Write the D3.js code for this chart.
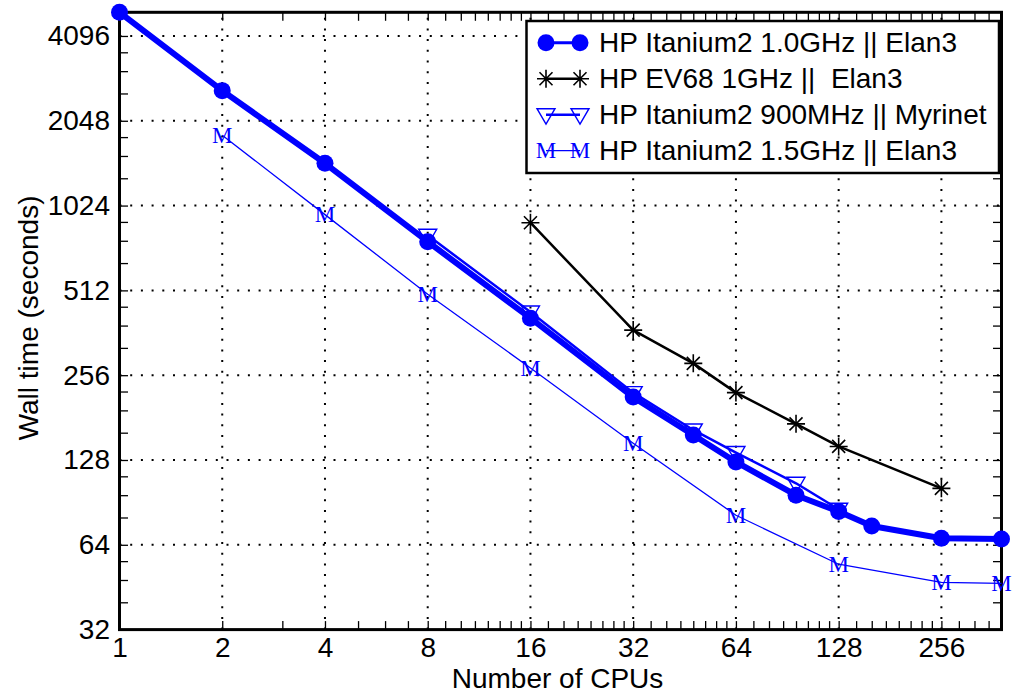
<!DOCTYPE html>
<html>
<head>
<meta charset="utf-8">
<script src="https://cdn.jsdelivr.net/npm/d3@7"></script>
<style>
    body { margin: 0; background: #fff; }
    svg { display: block; font-family: "Liberation Sans", Arial, Helvetica, sans-serif; }
    .tick-label { font-size: 28px; fill: #000; }
    .axis-title { font-size: 28px; fill: #000; }
    .legend-text { font-size: 28px; fill: #000; white-space: pre; }
    .m-marker { font-family: "Liberation Serif", "Times New Roman", serif; font-size: 23px; fill: #0000ff; }
</style>
</head>
<body>
<div id="chart"></div>
<script>
// Data
const cpuTicks = [1, 2, 4, 8, 16, 32, 64, 128, 256];
const timeTicks = [32, 64, 128, 256, 512, 1024, 2048, 4096];

const ita10Cpus = [1, 2, 4, 8, 16, 32, 48, 64, 96, 128, 160, 256, 384];
const ita10Time = [4970, 2620, 1447, 762, 408, 214, 157, 126, 96, 84, 74.6, 67.5, 67.1];

const ev68Cpus = [16, 32, 48, 64, 96, 128, 256];
const ev68Time = [890, 370, 282, 222, 172, 143, 101.5];

const ita900Cpus = [8, 16, 32, 48, 64, 96, 128];
const ita900Time = [803, 429, 222, 163.6, 136, 105.8, 85.6];

const ita15Cpus = [2, 4, 8, 16, 32, 64, 128, 256, 384];
const ita15Time = [1820, 951, 496, 271.5, 146.7, 81.5, 54.6, 47.1, 46.7];

const seriesNames = [
    'HP Itanium2 1.0GHz || Elan3',
    'HP EV68 1GHz ||  Elan3',
    'HP Itanium2 900MHz || Myrinet',
    'HP Itanium2 1.5GHz || Elan3'
];

// Layout
const W = 1013, H = 693;
const plot = { left: 119.5, top: 12.3, right: 1001.5, bottom: 629.6 };
const BLUE = '#0000ff';

const svg = d3.select('#chart').append('svg')
    .attr('width', W)
    .attr('height', H);

const zip = (xs, ys) => xs.map((x, i) => ({ x, y: ys[i] }));
const series = [
    zip(ita10Cpus, ita10Time),
    zip(ev68Cpus, ev68Time),
    zip(ita900Cpus, ita900Time),
    zip(ita15Cpus, ita15Time)
];

const allCpus = [].concat(ita10Cpus, ev68Cpus, ita900Cpus, ita15Cpus);
const allTimes = [].concat(ita10Time, ev68Time, ita900Time, ita15Time);

const x = d3.scaleLog().base(2)
    .domain(d3.extent(allCpus))
    .range([plot.left, plot.right]);
const y = d3.scaleLog().base(2)
    .domain([32, d3.max(allTimes)])
    .range([plot.bottom, plot.top]);

// minor ticks inside each octave
function minorTicks(domain, parts, minStep) {
    const out = [];
    for (let k = Math.floor(Math.log2(domain[0])); Math.pow(2, k) < domain[1]; k++) {
        const lo = Math.pow(2, k);
        const step = Math.max(minStep, lo / parts);
        for (let v = lo + step; v < lo * 2 - 1e-9; v += step) {
            if (v > domain[0] && v < domain[1]) out.push(v);
        }
    }
    return out;
}
const xMinor = minorTicks(x.domain(), 8, 1);
const yMinor = minorTicks(y.domain(), 4, 0);

// Grid (dotted)
const grid = svg.append('g')
    .attr('stroke', '#000')
    .attr('stroke-width', 2)
    .attr('stroke-dasharray', '2 8.7');
grid.selectAll('.gx')
    .data(cpuTicks.filter(d => d > x.domain()[0]))
    .enter().append('line')
    .attr('x1', d => x(d)).attr('x2', d => x(d))
    .attr('y1', plot.bottom).attr('y2', plot.top);
grid.selectAll('.gy')
    .data(timeTicks.filter(d => d > y.domain()[0]))
    .enter().append('line')
    .attr('x1', plot.left).attr('x2', plot.right)
    .attr('y1', d => y(d)).attr('y2', d => y(d));

// Axes with inward ticks on all four sides
const TL = 8.5;
const axisSpec = [
    { axis: d3.axisBottom(x), pos: `translate(0,${plot.bottom})`, minor: xMinor, sc: x, labels: true },
    { axis: d3.axisTop(x), pos: `translate(0,${plot.top})`, minor: xMinor, sc: x, labels: false },
    { axis: d3.axisLeft(y), pos: `translate(${plot.left},0)`, minor: yMinor, sc: y, labels: true },
    { axis: d3.axisRight(y), pos: `translate(${plot.right},0)`, minor: yMinor, sc: y, labels: false }
];
axisSpec.forEach(s => {
    const isX = s.sc === x;
    const major = isX ? cpuTicks : timeTicks;
    const g = svg.append('g').attr('transform', s.pos);
    g.call(s.axis.tickValues(major.concat(s.minor))
        .tickSize(-TL)
        .tickPadding(isX ? 8 : 9.5)
        .tickFormat(d => (s.labels && major.includes(d)) ? d3.format('d')(d) : ''));
    g.select('.domain').remove();
    g.selectAll('.tick line').attr('stroke', '#000').attr('stroke-width', 1.3);
    g.selectAll('.tick text')
        .attr('class', 'tick-label')
        .attr('font-size', null)
        .attr('font-family', null);
});

// frame
svg.append('rect')
    .attr('x', plot.left).attr('y', plot.top)
    .attr('width', plot.right - plot.left)
    .attr('height', plot.bottom - plot.top)
    .attr('fill', 'none')
    .attr('stroke', '#000')
    .attr('stroke-width', 3);

// Axis titles
svg.append('text')
    .attr('class', 'axis-title')
    .attr('x', (plot.left + plot.right) / 2 - 3)
    .attr('y', 688)
    .attr('text-anchor', 'middle')
    .text('Number of CPUs');
svg.append('text')
    .attr('class', 'axis-title')
    .attr('transform', `translate(38,${(plot.top + plot.bottom) / 2 - 3}) rotate(-90)`)
    .attr('text-anchor', 'middle')
    .text('Wall time (seconds)');

// Marker helpers
function drawCircle(g, cx, cy) {
    g.append('circle').attr('cx', cx).attr('cy', cy).attr('r', 8.5).attr('fill', BLUE);
}
function drawStar(g, cx, cy) {
    const r = 9, d = 6.5;
    const p = `M${cx - r},${cy}H${cx + r}M${cx},${cy - r}V${cy + r}` +
        `M${cx - d},${cy - d}L${cx + d},${cy + d}M${cx - d},${cy + d}L${cx + d},${cy - d}`;
    g.append('path').attr('d', p).attr('stroke', '#000').attr('stroke-width', 1.6).attr('fill', 'none');
}
function drawTri(g, cx, cy) {
    const p = `M${cx - 9},${cy - 6}L${cx + 9},${cy - 6}L${cx},${cy + 9.5}Z`;
    g.append('path').attr('d', p).attr('stroke', BLUE).attr('stroke-width', 1.4).attr('fill', 'none');
}
function drawM(g, cx, cy) {
    g.append('text').attr('class', 'm-marker')
        .attr('x', cx).attr('y', cy + 7.6)
        .attr('text-anchor', 'middle')
        .text('M');
}

const styles = [
    { color: BLUE, width: 6, marker: drawCircle },
    { color: '#000', width: 2.5, marker: drawStar },
    { color: BLUE, width: 2.5, marker: drawTri },
    { color: BLUE, width: 1.3, marker: drawM }
];

const line = d3.line().x(d => x(d.x)).y(d => y(d.y));

const dataLayer = svg.append('g');
series.forEach((pts, i) => {
    const st = styles[i];
    const g = dataLayer.append('g');
    g.append('path')
        .datum(pts)
        .attr('d', line)
        .attr('fill', 'none')
        .attr('stroke', st.color)
        .attr('stroke-width', st.width)
        .attr('stroke-linejoin', 'round');
    pts.forEach(p => st.marker(g, x(p.x), y(p.y)));
});

// Legend
const legend = svg.append('g');
legend.append('rect')
    .attr('x', 526.5).attr('y', 21)
    .attr('width', 472.5).attr('height', 152)
    .attr('fill', '#fff')
    .attr('stroke', '#000')
    .attr('stroke-width', 2.5);

seriesNames.forEach((name, i) => {
    const st = styles[i];
    const cy = 42.7 + i * 36;
    const g = legend.append('g');
    g.append('line')
        .attr('x1', 546).attr('x2', 580)
        .attr('y1', cy).attr('y2', cy)
        .attr('stroke', st.color)
        .attr('stroke-width', Math.min(st.width, 3));
    st.marker(g, 546, cy);
    st.marker(g, 580, cy);
    g.append('text')
        .attr('class', 'legend-text')
        .attr('x', 599)
        .attr('y', cy + 9.5)
        .text(name);
});
</script>
</body>
</html>
